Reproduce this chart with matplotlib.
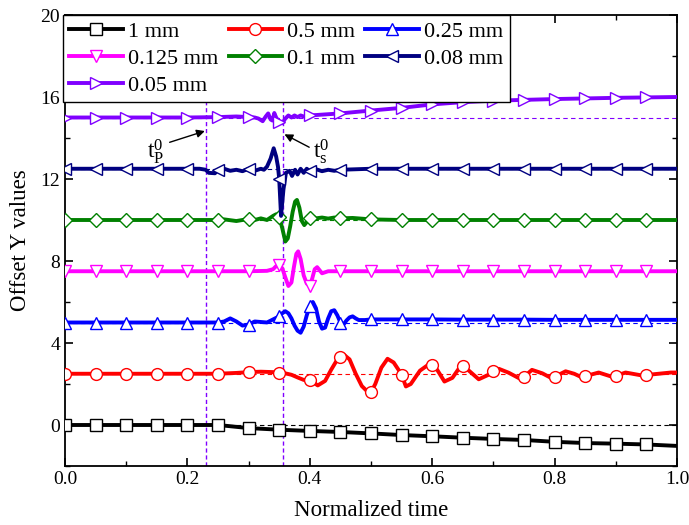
import numpy as np
import matplotlib
matplotlib.use("Agg")
import matplotlib.pyplot as plt
from matplotlib.lines import Line2D

plt.rcParams['font.family'] = ['Liberation Serif', 'DejaVu Serif']
plt.rcParams['mathtext.fontset'] = 'custom'
plt.rcParams['mathtext.rm'] = 'Liberation Serif'
plt.rcParams['mathtext.it'] = 'Liberation Serif:italic'

labels = ['1 mm', '0.5 mm', '0.25 mm', '0.125 mm', '0.1 mm', '0.08 mm', '0.05 mm']
offsets = [0.0, 2.5, 5.0, 7.5, 10.0, 12.5, 15.0]
colors = ['#000000', '#ff0000', '#0000ff', '#ff00ff', '#008000', '#000080', '#8000ff']
markers = ['s', 'o', '^', 'v', 'D', '<', '>']

# 1 mm
x_1 = [0.0, 0.05, 0.1, 0.15, 0.2, 0.25, 0.3, 0.35, 0.4, 0.45, 0.5, 0.55, 0.6, 0.65,
       0.7, 0.75, 0.8, 0.85, 0.9, 0.95, 1.0]
y_1 = [0.0, 0.0, 0.0, 0.0, 0.0, 0.0, -0.15, -0.23, -0.29, -0.34, -0.41, -0.49, -0.55,
       -0.62, -0.68, -0.73, -0.82, -0.88, -0.91, -0.95, -1.02]

# 0.5 mm
x_05 = [0.0, 0.05, 0.1, 0.15, 0.2, 0.25, 0.28, 0.3, 0.32, 0.34, 0.35, 0.36, 0.37, 0.38,
        0.39, 0.4, 0.413, 0.425, 0.435, 0.445, 0.45, 0.457, 0.465, 0.475, 0.485, 0.497,
        0.5, 0.507, 0.517, 0.527, 0.537, 0.547, 0.55, 0.557, 0.565, 0.58, 0.595, 0.6,
        0.608, 0.62, 0.633, 0.647, 0.65, 0.66, 0.676, 0.692, 0.7, 0.709, 0.725, 0.742,
        0.75, 0.763, 0.78, 0.794, 0.8, 0.818, 0.832, 0.844, 0.85, 0.872, 0.893, 0.9,
        0.916, 0.942, 0.95, 0.99, 1.0]
y_05 = [0.0, 0.0, 0.0, 0.0, 0.0, 0.0, 0.04, 0.08, 0.1, 0.08, 0.05, 0.02, -0.05, -0.18,
        -0.3, -0.3, -0.57, -0.35, 0.2, 0.7, 0.83, 0.9, 0.7, 0.0, -0.6, -0.95,
        -0.9, -0.5, 0.3, 0.73, 0.55, 0.1, -0.05, -0.62, -0.5, 0.15, 0.47, 0.45,
        0.2, -0.38, -0.2, 0.4, 0.38, 0.15, -0.27, -0.05, 0.12, 0.24, 0.05, -0.22,
        -0.15, 0.19, 0.02, -0.2, -0.15, 0.12, 0.0, -0.17, -0.12, 0.06, -0.14, -0.1,
        0.06, -0.08, -0.06, 0.06, 0.06]

# 0.25 mm
x_025 = [0.0, 0.05, 0.1, 0.15, 0.2, 0.25, 0.26, 0.27, 0.28, 0.29, 0.3, 0.31, 0.33,
         0.35, 0.355, 0.36, 0.365, 0.37, 0.375, 0.38, 0.385, 0.39, 0.395, 0.4, 0.405,
         0.41, 0.415, 0.42, 0.425, 0.43, 0.435, 0.44, 0.445, 0.45, 0.455, 0.46, 0.465,
         0.47, 0.475, 0.48, 0.49, 0.5, 0.55, 0.6, 0.65, 0.7, 0.75, 0.8, 0.85, 0.9,
         0.95, 1.0]
y_025 = [0.0, 0.0, 0.0, 0.0, 0.0, 0.0, 0.05, 0.2, 0.05, -0.15, -0.1, 0.05, 0.0,
         0.3, 0.45, 0.55, 0.45, 0.2, -0.15, -0.4, -0.5, -0.2, 0.35, 0.8, 1.0,
         0.7, 0.05, -0.3, -0.25, 0.2, 0.55, 0.6, 0.35, 0.0, -0.1, 0.1, 0.25,
         0.3, 0.2, 0.12, 0.12, 0.15, 0.15, 0.15, 0.14, 0.14, 0.14, 0.13, 0.13, 0.13,
         0.13, 0.13]

# 0.125 mm
x_0125 = [0.0, 0.05, 0.1, 0.15, 0.2, 0.25, 0.3, 0.33, 0.34, 0.345, 0.35, 0.355, 0.36,
          0.365, 0.37, 0.374, 0.378, 0.381, 0.385, 0.39, 0.395, 0.4, 0.404, 0.408,
          0.412, 0.416, 0.42, 0.425, 0.43, 0.45, 0.5, 0.55, 0.6, 0.65, 0.7, 0.75, 0.8,
          0.85, 0.9, 0.95, 1.0]
y_0125 = [0.0, 0.0, 0.0, 0.0, 0.0, 0.0, 0.0, 0.02, 0.1, 0.25, 0.3, 0.15, -0.3,
          -0.72, -0.55, 0.2, 0.85, 0.97, 0.6, -0.2, -0.6, -0.72, -0.35, 0.1,
          0.2, 0.05, -0.1, -0.05, 0.0, 0.0, 0.0, 0.0, 0.0, 0.0, 0.0, 0.0, 0.0,
          0.0, 0.0, 0.0, 0.0]

# 0.1 mm
x_01 = [0.0, 0.05, 0.1, 0.15, 0.2, 0.25, 0.26, 0.28, 0.3, 0.31, 0.32, 0.33, 0.34,
        0.345, 0.35, 0.355, 0.36, 0.364, 0.368, 0.372, 0.376, 0.379, 0.383, 0.387,
        0.391, 0.395, 0.4, 0.405, 0.41, 0.42, 0.43, 0.44, 0.45, 0.47, 0.5, 0.55, 0.6,
        0.65, 0.7, 0.75, 0.8, 0.85, 0.9, 0.95, 1.0]
y_01 = [0.0, 0.0, 0.0, 0.0, 0.0, 0.0, 0.03, -0.05, 0.05, 0.0, 0.08, 0.0, 0.2,
        0.28, 0.15, -0.4, -1.05, -0.9, -0.3, 0.4, 0.9, 0.98, 0.6, -0.05,
        -0.25, -0.1, 0.1, 0.18, 0.08, 0.12, 0.07, 0.12, 0.08, 0.1, 0.03, 0.0, 0.0,
        0.0, 0.0, 0.0, 0.0, 0.0, 0.0, 0.0, 0.0]

# 0.08 mm
x_008 = [0.0, 0.05, 0.1, 0.15, 0.2, 0.22, 0.23, 0.235, 0.245, 0.25, 0.26, 0.27, 0.28,
         0.29, 0.3, 0.31, 0.32, 0.325, 0.33, 0.336, 0.341, 0.345, 0.348, 0.35, 0.353,
         0.357, 0.361, 0.367, 0.371, 0.376, 0.38, 0.385, 0.39, 0.395, 0.4, 0.41, 0.42,
         0.43, 0.44, 0.45, 0.5, 0.55, 0.6, 0.65, 0.7, 0.75, 0.8, 0.85, 0.9, 0.95, 1.0]
y_008 = [0.0, 0.0, 0.0, 0.0, 0.0, 0.0, -0.05, -0.2, -0.22, -0.05, 0.0, -0.1, -0.05,
         -0.12, 0.0, -0.1, 0.0, -0.05, 0.1, 0.5, 1.0, 0.6, 0.1, -0.5, -2.3,
         -1.0, -0.2, -0.1, -0.35, -0.05, -0.28, 0.0, -0.2, 0.0, -0.12, -0.02, -0.12,
         -0.05, -0.1, -0.05, 0.0, 0.0, 0.0, 0.0, 0.0, 0.0, 0.0, 0.0, 0.0, 0.0, 0.0]

# 0.05 mm
x_005 = [0.0, 0.05, 0.1, 0.15, 0.2, 0.25, 0.28, 0.3, 0.31, 0.316, 0.323, 0.328, 0.332,
         0.336, 0.339, 0.342, 0.345, 0.35, 0.355, 0.36, 0.365, 0.37, 0.375, 0.38,
         0.385, 0.39, 0.4, 0.45, 0.5, 0.55, 0.6, 0.65, 0.7, 0.75, 0.8, 0.85, 0.9,
         0.95, 1.0]
y_005 = [0.0, 0.0, 0.0, 0.0, 0.0, 0.02, 0.05, 0.02, 0.0, -0.05, -0.18, 0.05, 0.2,
         -0.1, -0.15, 0.22, 0.0, -0.22, -0.28, -0.05, 0.1, 0.0, 0.1, 0.02,
         0.1, 0.05, 0.1, 0.2, 0.34, 0.47, 0.64, 0.75, 0.82, 0.86, 0.9, 0.93, 0.96,
         0.98, 1.0]

xs = [x_1, x_05, x_025, x_0125, x_01, x_008, x_005]
ys = [y_1, y_05, y_025, y_0125, y_01, y_008, y_005]

t_p0 = 0.23
t_s0 = 0.356

fig = plt.figure(figsize=(6.89, 5.25), dpi=100)
ax = fig.add_axes([65/689, 1-466/525, 612/689, 451/525])

for off, c in zip(offsets, colors):
    ax.axhline(off, color=c, ls=(0, (4, 3)), lw=0.8, zorder=1)

ax.axvline(t_p0, color='#8000ff', ls=(0, (3, 2)), lw=1.0, zorder=1)
ax.axvline(t_s0, color='#8000ff', ls=(0, (3, 2)), lw=1.0, zorder=1)

for x, y, off, c, m in zip(xs, ys, offsets, colors, markers):
    xa = np.array(x)
    ya = np.array(y) + off
    idx = [i for i, v in enumerate(xa)
           if abs(v / 0.05 - round(v / 0.05)) < 1e-6 and v < 0.999]
    ms = 7 if m == 'D' else 8.5
    ax.plot(xa, ya, color=c, lw=2.8, marker=m, ms=ms, mfc='white', mec=c,
            mew=1.0, markevery=idx, zorder=3, solid_joinstyle='round')

ax.set_xlim(0, 1.0)
ax.set_ylim(-2, 20)
ax.set_xticks(np.arange(0, 1.01, 0.2))
ax.set_xticks(np.arange(0, 1.01, 0.1), minor=True)
ax.set_yticks(np.arange(0, 21, 4))
ax.set_yticks(np.arange(-2, 21, 2), minor=True)
ax.set_xticklabels(['0.0', '0.2', '0.4', '0.6', '0.8', '1.0'])
ax.tick_params(which='both', direction='in', top=True, right=True, labelsize=14)
ax.tick_params(which='major', length=6, width=1.2)
ax.tick_params(which='minor', length=3.5, width=1.0)
for s in ax.spines.values():
    s.set_linewidth(1.3)

ax.set_xlabel('Normalized time', fontsize=16.5, labelpad=9)
ax.set_ylabel('Offset Y values', fontsize=16.5, labelpad=7)

ax.annotate('', xy=(0.2285, 14.34), xytext=(0.171, 13.79),
            arrowprops=dict(arrowstyle='-|>', color='black', lw=1.0,
                            mutation_scale=12, shrinkA=0, shrinkB=0))
ax.annotate('', xy=(0.3586, 14.18), xytext=(0.399, 13.55),
            arrowprops=dict(arrowstyle='-|>', color='black', lw=1.0,
                            mutation_scale=12, shrinkA=0, shrinkB=0))
ax.text(0.148, 13.35, r'$\mathrm{t_P^0}$', fontsize=17, ha='center', va='center')
ax.text(0.419, 13.35, r'$\mathrm{t_s^0}$', fontsize=17, ha='center', va='center')

handles = []
for lab, c, m in zip(labels, colors, markers):
    ms = 7 if m == 'D' else 8.5
    handles.append(Line2D([], [], color=c, lw=2.8, marker=m, ms=ms, mfc='white',
                          mec=c, mew=1.0, label=lab))
order = [0, 3, 6, 1, 4, 2, 5]
leg = ax.legend([handles[i] for i in order], [labels[i] for i in order],
                loc='upper left', bbox_to_anchor=(-0.003, 1.0), borderaxespad=0,
                ncol=3, fontsize=16, frameon=True, fancybox=False, framealpha=1,
                edgecolor='black', handlelength=2.4, handletextpad=0.25,
                columnspacing=0.45, labelspacing=0.3, borderpad=0.28)
leg.get_frame().set_linewidth(1.0)
leg.set_zorder(10)

fig.savefig('out.png', dpi=100)
